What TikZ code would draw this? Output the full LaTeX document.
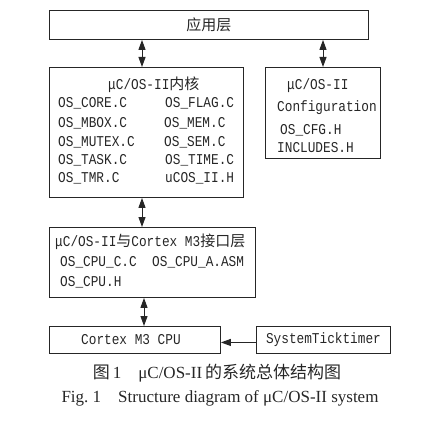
\documentclass[tikz,border=0pt]{standalone}
\usepackage{fontspec}
\setmainfont{Liberation Serif}
\setmonofont[FakeStretch=0.85]{Liberation Mono}
\newfontfamily\cjk{Noto Sans CJK SC}
\newfontfamily\cjkcap{Noto Sans CJK SC}
\usetikzlibrary{arrows.meta}

\tikzset{
  box/.style={draw=black!85,line width=0.9pt,anchor=north west,inner sep=0pt},
  txt/.style={anchor=west,inner sep=0pt,font=\ttfamily\fontsize{15}{17}\selectfont,text=black!85},
  link/.style={line width=1pt,draw=black!85,>={Triangle[length=10pt,width=7pt]},<->},
  feed/.style={line width=1pt,draw=black!85,>={Triangle[length=10pt,width=7pt]},->}
}

\begin{document}
\begin{tikzpicture}[x=1pt,y=1pt]
          \useasboundingbox (0,0) rectangle (447,421);
          % boxes
          \node[box,minimum width=319pt,minimum height=29pt] (app) at (49,411) {};
          \node[box,minimum width=194pt,minimum height=130pt] (kern) at (49,354) {};
          \node[box,minimum width=115pt,minimum height=91pt] (cfg) at (265,354) {};
          \node[box,minimum width=206pt,minimum height=70pt] (port) at (49,194) {};
          \node[box,minimum width=171pt,minimum height=27pt] (cpu) at (49,95) {};
          \node[box,minimum width=134pt,minimum height=27pt] (tick) at (256,95) {};
          % texts
          \node[txt,anchor=center] (apptxt) at (app.center) {\cjk 应用层};
          \node[txt] (k0) at (108,336) {μC/OS-II{\cjk 内核}};
          \node[txt] (k1) at (58,318) {OS\_CORE.C};
          \node[txt] (k2) at (58,298) {OS\_MBOX.C};
          \node[txt] (k3) at (58,279) {OS\_MUTEX.C};
          \node[txt] (k4) at (58,261) {OS\_TASK.C};
          \node[txt] (k5) at (58,243) {OS\_TMR.C};
          \node[txt] (k6) at (165,318) {OS\_FLAG.C};
          \node[txt] (k7) at (164,298) {OS\_MEM.C};
          \node[txt] (k8) at (164,279) {OS\_SEM.C};
          \node[txt] (k9) at (165,261) {OS\_TIME.C};
          \node[txt] (k10) at (165,243) {uCOS\_II.H};
          \node[txt] (c1) at (287,335) {μC/OS-II};
          \node[txt] (c2) at (277,313) {Configuration};
          \node[txt] (c3) at (280,291) {OS\_CFG.H};
          \node[txt] (c4) at (277,273) {INCLUDES.H};
          \node[txt] (q0) at (55,179) {μC/OS-II{\cjk 与}Cortex M3{\cjk 接口层}};
          \node[txt] (q1) at (60,159) {OS\_CPU\_C.C};
          \node[txt] (q2) at (152,159) {OS\_CPU\_A.ASM};
          \node[txt] (q3) at (60,139) {OS\_CPU.H};
          \node[txt,anchor=center] (cputxt) at ([xshift=-4pt]cpu.center) {Cortex M3 CPU};
          \node[txt,anchor=center] (ticktxt) at (tick.center) {SystemTicktimer};
          % connectors
          \coordinate (a1) at (142,0);
          \coordinate (a2) at (323,0);
          \coordinate (a3) at (144,0);
          \draw[link] (a1 |- app.south) -- (a1 |- kern.north);
          \draw[link] (a2 |- app.south) -- (a2 |- cfg.north);
          \draw[link] (a1 |- kern.south) -- (a1 |- port.north);
          \draw[link] (a3 |- port.south) -- (a3 |- cpu.north);
          \draw[feed] ([yshift=-2.5pt]tick.west) -- ([yshift=-2.5pt]tick.west -| cpu.east);
          % caption
          \node[font=\fontsize{17}{19}\selectfont,text=black!85] (cap1) at (217,48) {{\cjkcap 图}\,1\quad μC/OS-II\,{\cjkcap 的系统总体结构图}};
          \node[font=\fontsize{17}{19}\selectfont,text=black!85] (cap2) at (220,23) {Fig.~1\quad Structure diagram of μC/OS-II system};
\end{tikzpicture}
\end{document}
